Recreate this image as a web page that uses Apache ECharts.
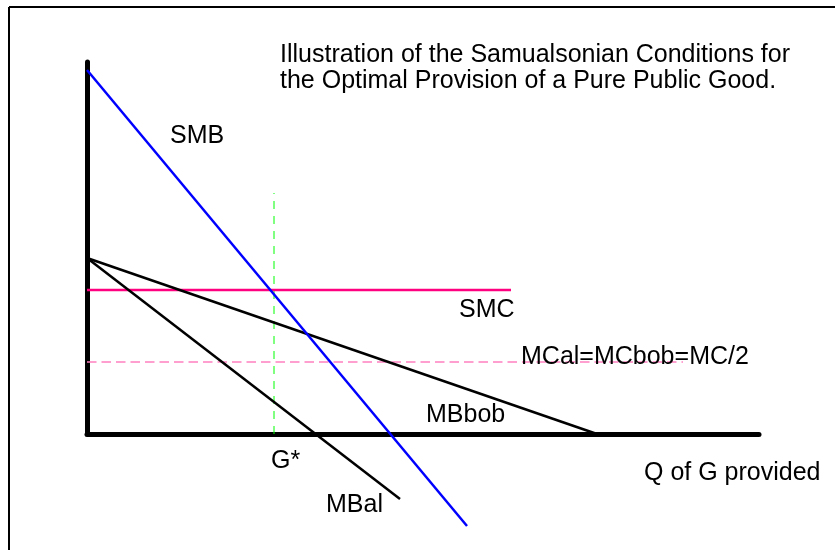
<!DOCTYPE html>
<html>
<head>
<meta charset="utf-8">
<title>Samualsonian Conditions</title>
<script src="https://cdn.jsdelivr.net/npm/echarts@6/dist/echarts.min.js"></script>
<style>
  html, body { margin: 0; padding: 0; background: #fff; }
  #chart { width: 835px; height: 550px; }
</style>
</head>
<body>
<div id="chart"></div>
<script>
// curves as [quantity, value] end points
const smb = [[0, 91], [95, -23]];
const mbBob = [[0, 44], [127.5, 0]];
const mbAl = [[0, 44], [78.25, -16.25]];
const smc = [[0, 36], [106, 36]];
const mcHalf = [[0, 18], [149, 18]];
const gStar = [[46.75, 0], [46.75, 60.25]];

const xMax = 168;
const yMax = 93;

const font = '"Liberation Sans", Arial, sans-serif';

function lineSeries(name, data, color, width, dash) {
  return {
    name: name,
    type: 'line',
    data: data,
    symbol: 'none',
    clip: false,
    silent: true,
    lineStyle: { color: color, width: width, type: dash || 'solid' }
  };
}

function label(text, x, y) {
  return {
    type: 'text',
    x: x,
    y: y,
    z: 100,
    style: {
      text: text,
      fill: '#000',
      font: '25px ' + font,
      align: 'left',
      verticalAlign: 'middle'
    }
  };
}

const chart = echarts.init(document.getElementById('chart'));
chart.setOption({
  animation: false,
  backgroundColor: '#fff',
  grid: { left: 87, top: 62, right: 76, bottom: 116 },
  xAxis: {
    type: 'value',
    min: 0,
    max: xMax,
    axisLine: { lineStyle: { color: '#000', width: 5, cap: 'round' } },
    axisTick: { show: false },
    axisLabel: { show: false },
    splitLine: { show: false }
  },
  yAxis: {
    type: 'value',
    min: 0,
    max: yMax,
    axisLine: { show: true, lineStyle: { color: '#000', width: 5, cap: 'round' } },
    axisTick: { show: false },
    axisLabel: { show: false },
    splitLine: { show: false }
  },
  series: [
    lineSeries('G*', gStar, '#00ff00', 1, [8, 7]),
    lineSeries('MC/2', mcHalf, '#ff80c0', 1.5, [9.5, 5]),
    lineSeries('SMC', smc, '#ff0080', 2.5),
    lineSeries('MBbob', mbBob, '#000', 2.5),
    lineSeries('MBal', mbAl, '#000', 2.5),
    lineSeries('SMB', smb, '#0000ff', 2.5)
  ],
  graphic: [
    { type: 'line', shape: { x1: 9, y1: 7, x2: 835, y2: 7 }, style: { stroke: '#000', lineWidth: 2 } },
    { type: 'line', shape: { x1: 9, y1: 7, x2: 9, y2: 550 }, style: { stroke: '#000', lineWidth: 2 } },
    label('Illustration of the Samualsonian Conditions for', 280, 55),
    label('the Optimal Provision of a Pure Public Good.', 280, 81),
    label('SMB', 170, 136),
    label('SMC', 459, 310),
    label('MCal=MCbob=MC/2', 521, 357),
    label('MBbob', 426, 415),
    label('G*', 271, 461),
    label('MBal', 326, 505),
    label('Q of G provided', 644, 473)
  ]
});
</script>
</body>
</html>
